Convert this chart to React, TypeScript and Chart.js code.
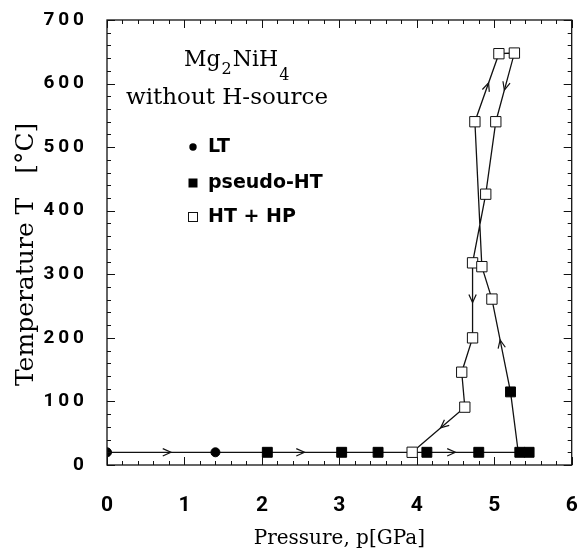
import React, { useEffect, useRef } from "react";
import { Chart, registerables } from "chart.js";

Chart.register(...registerables);

// ---- data ----
const ltP = [0, 1.4];
const ltT = [20, 20];

const pseudoP = [2.07, 3.03, 3.5, 4.13, 4.8, 5.33, 5.45, 5.21];
const pseudoT = [20, 20, 20, 20, 20, 20, 20, 115];

const htP = [3.94, 4.62, 4.58, 4.72, 4.72, 4.84, 4.97, 4.89, 4.75, 5.02, 5.06, 5.26];
const htT = [20, 91, 146, 200, 318, 312, 261, 426, 540, 540, 647, 648];

// isothermal compression path at room temperature
const baseP = [0, 1.4, 2.07, 3.03, 3.5, 3.94, 4.13, 4.8, 5.33, 5.45];
const baseT = [20, 20, 20, 20, 20, 20, 20, 20, 20, 20];

// heating / cooling loop
const loopP = [5.31, 5.21, 4.97, 4.84, 4.75, 5.06, 5.26, 5.02, 4.89, 4.72, 4.72, 4.58, 4.62, 3.94];
const loopT = [20, 115, 261, 312, 540, 647, 648, 540, 426, 318, 200, 146, 91, 20];

// arrows: [segment start index, fraction along segment]
const baseArrows: [number, number][] = [[0, 0.59], [2, 0.5], [6, 0.55]];
const loopArrows: [number, number][] = [[1, 0.56], [4, 0.57], [6, 0.54], [9, 0.53], [12, 0.46]];

const xTicks = [0, 1, 2, 3, 4, 5, 6];
const yTicks = [0, 100, 200, 300, 400, 500, 600, 700];

const legendLabels = ["LT", "pseudo-HT", "HT + HP"];

const SERIF = '"DejaVu Serif", "Liberation Serif", serif';
const BOLDSANS = '"DejaVu Sans", "Noto Sans", sans-serif';
const TICKFONT = 'Roboto, "DejaVu Sans", sans-serif';

const toXY = (ps: number[], ts: number[]) => ps.map((p, i) => ({ x: p, y: ts[i] }));

const decorPlugin = {
  id: "decor",
  afterDatasetsDraw(chart: any) {
    const { ctx, chartArea: a, scales } = chart;
    const xs = scales.x;
    const ys = scales.y;
    ctx.save();
    ctx.strokeStyle = "#111";
    ctx.lineWidth = 1.3;
    // frame
    ctx.strokeRect(a.left, a.top, a.right - a.left, a.bottom - a.top);
    // ticks
    ctx.lineWidth = 1;
    for (let v = 0; v <= 6.0001; v += 0.2) {
      const major = Math.abs(v - Math.round(v)) < 1e-6;
      const len = major ? 8 : 4;
      const px = Math.round(xs.getPixelForValue(v)) + 0.5;
      ctx.beginPath();
      ctx.moveTo(px, a.bottom);
      ctx.lineTo(px, a.bottom - len);
      ctx.moveTo(px, a.top);
      ctx.lineTo(px, a.top + len);
      ctx.stroke();
    }
    for (let v = 0; v <= 700.001; v += 20) {
      const major = v % 100 === 0;
      const len = major ? 8 : 4;
      const py = Math.round(ys.getPixelForValue(v)) + 0.5;
      ctx.beginPath();
      ctx.moveTo(a.left, py);
      ctx.lineTo(a.left + len, py);
      ctx.moveTo(a.right, py);
      ctx.lineTo(a.right - len, py);
      ctx.stroke();
    }
    // arrows
    const drawArrows = (ps: number[], ts: number[], arrows: [number, number][]) => {
      arrows.forEach(([i, f]) => {
        const x1 = xs.getPixelForValue(ps[i]);
        const y1 = ys.getPixelForValue(ts[i]);
        const x2 = xs.getPixelForValue(ps[i + 1]);
        const y2 = ys.getPixelForValue(ts[i + 1]);
        const cx = x1 + (x2 - x1) * f;
        const cy = y1 + (y2 - y1) * f;
        const ang = Math.atan2(y2 - y1, x2 - x1);
        const L = 9;
        const spread = 0.42;
        ctx.beginPath();
        ctx.moveTo(cx - L * Math.cos(ang - spread), cy - L * Math.sin(ang - spread));
        ctx.lineTo(cx, cy);
        ctx.lineTo(cx - L * Math.cos(ang + spread), cy - L * Math.sin(ang + spread));
        ctx.lineWidth = 1.2;
        ctx.stroke();
      });
    };
    drawArrows(baseP, baseT, baseArrows);
    drawArrows(loopP, loopT, loopArrows);

    // title text
    ctx.fillStyle = "#000";
    ctx.textBaseline = "alphabetic";
    ctx.textAlign = "left";
    const big = "22px " + SERIF;
    const small = "16px " + SERIF;
    let x = 184;
    const by = 66;
    const parts: [string, string, number][] = [["Mg", big, 0], ["2", small, 8], ["NiH", big, 0], ["4", small, 14]];
    parts.forEach(([s, f, dy]) => {
      ctx.font = f;
      ctx.fillText(s, x, by + dy);
      x += ctx.measureText(s).width + 1;
    });
    ctx.font = "23px " + SERIF;
    ctx.fillText("without H-source", 126, 104);

    // legend
    const ly = [147, 183, 217];
    ctx.font = "bold 19px " + BOLDSANS;
    ctx.textBaseline = "middle";
    legendLabels.forEach((lab, i) => {
      ctx.fillText(lab, 208, ly[i]);
    });
    // markers
    ctx.beginPath();
    ctx.arc(193, ly[0], 3.7, 0, Math.PI * 2);
    ctx.fill();
    ctx.fillRect(188.5, ly[1] - 4.5, 9, 9);
    ctx.fillStyle = "#fff";
    ctx.fillRect(188.5, ly[2] - 4.5, 9, 9);
    ctx.lineWidth = 1;
    ctx.strokeRect(188.5, ly[2] - 4.5, 9, 9);
    ctx.restore();
  },
};

export default function App() {
  const ref = useRef<HTMLCanvasElement>(null);
  useEffect(() => {
    if (!ref.current) return;
    const chart = new Chart(ref.current, {
      type: "scatter",
      data: {
        datasets: [
          {
            label: legendLabels[0],
            data: toXY(ltP, ltT),
            pointStyle: "circle",
            pointRadius: 4.5,
            backgroundColor: "#000",
            borderColor: "#000",
            borderWidth: 1,
          },
          {
            label: legendLabels[1],
            data: toXY(pseudoP, pseudoT),
            pointStyle: "rect",
            pointRadius: 7,
            backgroundColor: "#000",
            borderColor: "#000",
            borderWidth: 1,
          },
          {
            label: legendLabels[2],
            data: toXY(htP, htT),
            pointStyle: "rect",
            pointRadius: 7.3,
            backgroundColor: "#fff",
            borderColor: "#111",
            borderWidth: 1,
          },
          {
            label: "base",
            data: toXY(baseP, baseT),
            showLine: true,
            pointRadius: 0,
            borderColor: "#111",
            borderWidth: 1.3,
          },
          {
            label: "loop",
            data: toXY(loopP, loopT),
            showLine: true,
            pointRadius: 0,
            borderColor: "#111",
            borderWidth: 1.3,
          },
        ],
      },
      options: {
        animation: false,
        responsive: true,
        maintainAspectRatio: false,
        layout: { padding: { left: 0, top: 20, right: 8, bottom: 2 } },
        plugins: { legend: { display: false }, tooltip: { enabled: false } },
        scales: {
          x: {
            type: "linear",
            min: 0,
            max: 6,
            afterBuildTicks: (s: any) => {
              s.ticks = xTicks.map((v) => ({ value: v }));
            },
            afterFit: (s: any) => {
              s.height = 86;
              s.paddingLeft = 0;
              s.paddingRight = 0;
            },
            grid: { display: false, drawTicks: false },
            border: { display: false },
            ticks: {
              color: "#000",
              padding: 28,
              font: { family: TICKFONT, size: 21, weight: "bold" },
              callback: (v: any) => String(v),
            },
            title: {
              display: true,
              text: "Pressure, p[GPa]",
              color: "#000",
              font: { family: SERIF, size: 20 },
              padding: { top: 0, bottom: 0 },
            },
          },
          y: {
            type: "linear",
            min: 0,
            max: 700,
            afterBuildTicks: (s: any) => {
              s.ticks = yTicks.map((v) => ({ value: v }));
            },
            afterFit: (s: any) => {
              s.width = 107;
              s.paddingTop = 0;
              s.paddingBottom = 0;
            },
            grid: { display: false, drawTicks: false },
            border: { display: false },
            ticks: {
              color: "#000",
              padding: 23,
              font: { family: TICKFONT, size: 19, weight: "bold" },
              callback: (v: any) => String(v).split("").join("\u2009"),
            },
            title: {
              display: true,
              text: "Temperature T   [°C]   ",
              color: "#000",
              font: { family: SERIF, size: 25 },
              padding: { top: 11, bottom: 0 },
            },
          },
        },
      },
      plugins: [decorPlugin],
    });
    return () => chart.destroy();
  }, []);
  return (
    <div style={{ position: "absolute", left: 0, top: 0, width: 580, height: 553, background: "#fff" }}>
      <canvas ref={ref} />
    </div>
  );
}
